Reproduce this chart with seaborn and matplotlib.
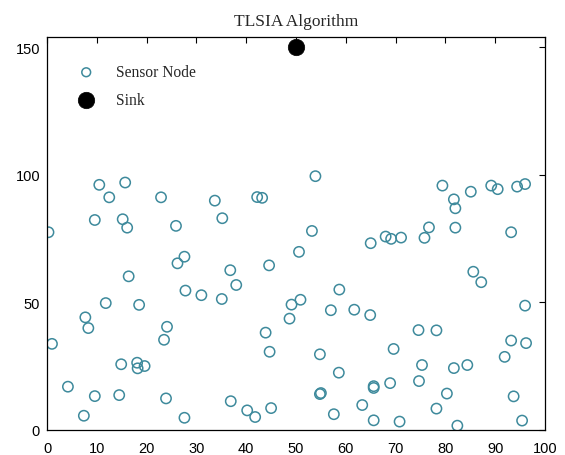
import matplotlib
matplotlib.use("Agg")
import matplotlib.pyplot as plt
import seaborn as sns
import numpy as np

sensor_x = [1.0, 4.2, 7.4, 7.7, 8.3, 9.6, 11.8, 14.5, 14.9, 18.1, 18.2, 19.6, 18.5, 23.5, 24.1, 23.9, 27.6, 27.8, 31.0,
            0.3, 10.5, 15.7, 12.5, 22.9, 9.6, 15.2, 16.1, 25.9, 27.6, 26.2, 16.4,
            33.7, 53.9, 42.2, 43.2, 35.2, 53.2, 50.6, 65.0, 44.6, 36.8, 38.0, 35.1, 58.7, 50.9, 49.1,
            48.7, 57.0, 61.7, 64.9, 43.9, 44.7, 54.8, 58.6, 54.8, 55.0, 65.6, 65.6, 63.3, 57.6, 65.6, 36.9, 40.2, 41.8, 45.0,
            68.0, 69.1, 71.1, 75.8, 76.7, 79.4, 81.7, 82.0, 82.0, 85.1, 89.2, 90.5, 94.4, 96.0, 93.2, 85.6, 87.2, 96.0,
            74.6, 78.2, 69.6, 75.3, 81.7, 84.4, 93.2, 96.2, 91.9, 68.9, 74.7, 80.3, 93.7, 78.2, 70.8, 82.4, 95.4]
sensor_y = [33.6, 16.8, 5.4, 44.0, 39.8, 13.1, 49.6, 13.5, 25.6, 26.2, 24.0, 24.9, 48.9, 35.2, 40.3, 12.2, 4.6, 54.5, 52.7,
            77.4, 96.0, 96.9, 91.1, 91.1, 82.2, 82.5, 79.2, 79.9, 67.8, 65.2, 60.1,
            89.8, 99.4, 91.2, 90.9, 82.9, 77.9, 69.7, 73.1, 64.4, 62.5, 56.7, 51.2, 54.9, 50.9, 49.0,
            43.5, 46.8, 47.0, 44.9, 38.0, 30.5, 29.5, 22.3, 13.9, 14.3, 17.0, 16.3, 9.6, 6.0, 3.6, 11.1, 7.5, 4.9, 8.4,
            75.7, 74.8, 75.3, 75.2, 79.3, 95.7, 90.3, 86.8, 79.2, 93.3, 95.7, 94.3, 95.3, 96.3, 77.4, 61.9, 57.8, 48.6,
            39.0, 38.9, 31.6, 25.3, 24.1, 25.3, 34.9, 33.9, 28.5, 18.2, 19.0, 14.1, 13.0, 8.2, 3.1, 1.5, 3.5]
sink_x = [50]
sink_y = [150]

x_ticks = list(range(0, 101, 10))
y_ticks = [0, 50, 100, 150]
title = "TLSIA Algorithm"
labels = ["Sensor Node", "Sink"]

sns.set_style("white")
plt.rcParams['font.family'] = ['Liberation Sans', 'DejaVu Sans']

fig = plt.figure(figsize=(5.65, 4.56), dpi=100)
ax = fig.add_axes([47/565, 1 - 430.5/456, (545-47)/565, (430.5-37.5)/456])

sensor_color = "#3e8a9c"
sns.scatterplot(x=sensor_x, y=sensor_y, ax=ax, color=sensor_color, facecolor="none",
                edgecolor=sensor_color, s=55, linewidth=1.1, marker="o", label=labels[0])
sns.scatterplot(x=sink_x, y=sink_y, ax=ax, color="black", edgecolor="black",
                s=140, linewidth=0.5, marker="o", label=labels[1])

ax.set_xlim(0, 100)
ax.set_ylim(0, 154.2)
ax.set_xticks(x_ticks)
ax.set_yticks(y_ticks)
ax.tick_params(direction="in", length=4, width=0.8, top=True, right=True,
               labelsize=10.5, colors="black")
ax.tick_params(axis="x", pad=8)
ax.tick_params(axis="y", pad=5)
for sp in ax.spines.values():
    sp.set_visible(True)
    sp.set_color("black")
    sp.set_linewidth(0.9)

ax.set_title(title, family="Liberation Serif", fontsize=12.5, pad=8)

leg = ax.legend(loc="upper left", frameon=False, prop={"family": "Liberation Serif", "size": 11.2},
                bbox_to_anchor=(0.035, 0.945), handletextpad=0.9, labelspacing=0.75, borderaxespad=0)
leg.legend_handles[0].set_sizes([40])

fig.savefig("out.png", dpi=100, facecolor="white")
